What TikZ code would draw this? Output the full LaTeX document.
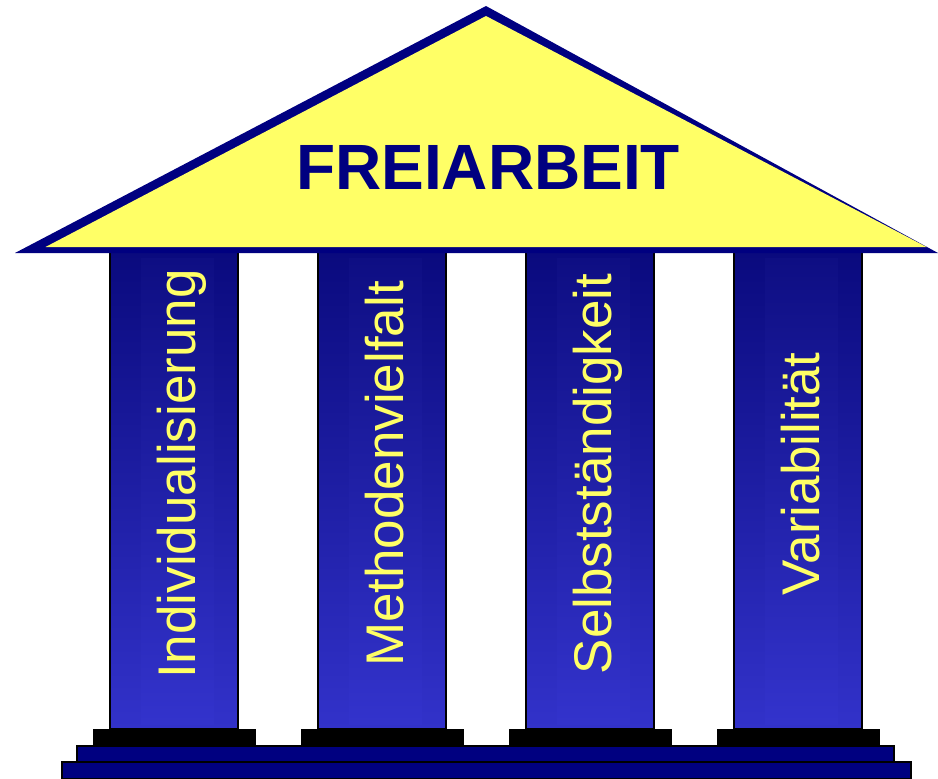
\documentclass[tikz,border=0pt]{standalone}
\usepackage{fontspec}
\setmainfont{Liberation Sans}
\definecolor{roofnavy}{RGB}{0,0,128}
\definecolor{roofyellow}{RGB}{255,255,102}
\definecolor{coltop}{RGB}{10,10,126}
\definecolor{colbot}{RGB}{50,50,202}
\definecolor{striptop}{RGB}{14,14,131}
\definecolor{stripbot}{RGB}{51,51,204}
\tikzset{
  pillarstrip/.style={top color=striptop, bottom color=stripbot},
  plinth/.style={draw=black, line width=1pt, fill=black},
  stair/.style={draw=black, line width=1.5pt, fill=roofnavy},
  pillartext/.style={rotate=90, anchor=base, text=roofyellow, font=\fontsize{53}{60}\selectfont},
  rooftext/.style={text=roofnavy, font=\fontsize{64}{70}\selectfont\bfseries}
}
\begin{document}
\begin{tikzpicture}[x=1pt, y=-1pt]
  \useasboundingbox (0,0) rectangle (938,779);
  % steps of the base
  \draw[stair] (62,762) rectangle (911,778.5);
  \draw[stair] (77,746) rectangle (894,762);
  % four pillars with their plinths and labels
  \foreach \x/\word [count=\i] in {110/Individualisierung, 318/Methodenvielfalt, 526/Selbstständigkeit, 734/Variabilität} {
    \draw[plinth] (\x-17,729) rectangle (\x+145,746);
    \shade[top color=coltop, bottom color=colbot] (\x,252) rectangle (\x+128,729);
    \shade[pillarstrip] (\x+31,258) rectangle (\x+104,724);
    \draw[black, line width=1.5pt] (\x,252) rectangle (\x+128,729);
    \node[pillartext] (label\i) at (\x+85,474) {\word};
  }
  % roof: navy outline triangle with yellow face
  \fill[roofnavy] (486,6) -- (15,253) -- (938,253) -- cycle;
  \fill[roofyellow] (486,16) -- (45.5,247) -- (926.5,247) -- cycle;
  \node[rooftext] (title) at (488,167) {FREIARBEIT};
\end{tikzpicture}
\end{document}
